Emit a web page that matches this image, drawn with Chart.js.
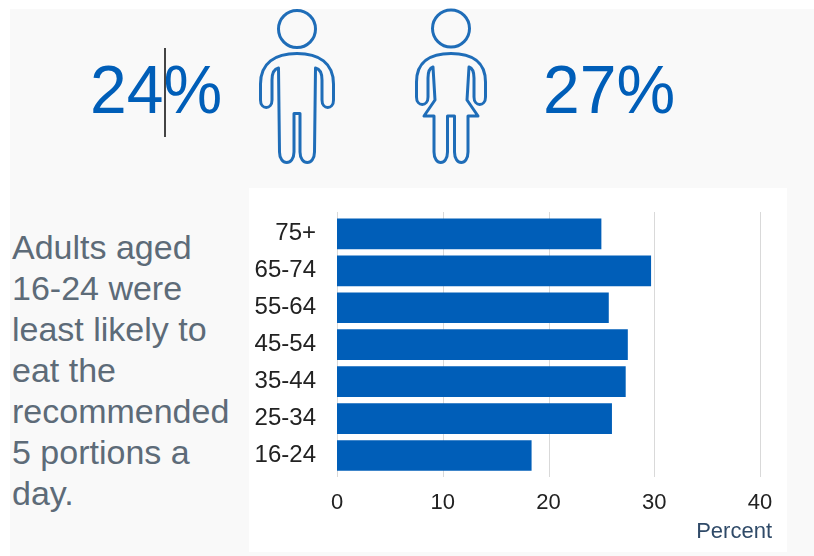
<!DOCTYPE html>
<html>
<head>
<meta charset="utf-8">
<script src="https://cdn.jsdelivr.net/npm/chart.js@4"></script>
<style>
html,body{margin:0;padding:0;background:#fff;}
#page{position:relative;width:814px;height:556px;overflow:hidden;font-family:"Liberation Sans",Arial,sans-serif;}
#panel{position:absolute;left:10px;top:9px;width:804px;height:547px;background:#f9f9f9;}
#chartBox{position:absolute;left:249px;top:188px;width:538px;height:364px;background:#fff;}
.big{position:absolute;font-size:66px;line-height:66px;color:#005eb8;white-space:nowrap;transform:scaleY(1.04);}
#divider{position:absolute;left:164px;top:48px;width:2px;height:89px;background:#444;}
#note{position:absolute;left:12px;top:227px;width:236px;font-size:34px;line-height:41px;color:#5d6b78;}
#icons{position:absolute;left:0;top:0;}
#icons *{fill:none;stroke:#1f6db8;stroke-width:3;stroke-linejoin:round;}
</style>
</head>
<body>
<div id="page">
	<div id="panel"></div>
	<div class="big" id="menValue" style="left:90px;top:56px;"></div>
	<div id="divider"></div>
	<div class="big" id="womenValue" style="left:543px;top:56px;"></div>
	<svg id="icons" width="814" height="190">
		<!-- man -->
		<circle cx="297" cy="29" r="18.5"></circle>
		<path d="M297 53.5C275 53.5 260.5 63 260.5 84V100C260.5 110 272 110 272 100V80C272 73 274 69 278.5 68L279.5 152C279.5 166 294 166 294 152V113.5H300V152C300 166 314.5 166 314.5 152L315.5 68C320 69 322 73 322 80V100C322 110 333.5 110 333.5 100V84C333.5 63 319 53.5 297 53.5Z"></path>
		<!-- woman -->
		<circle cx="451" cy="28.5" r="18.5"></circle>
		<path d="M451 53.5C430 53.5 416.5 62 416.5 82V97C416.5 107 428 107 428 97V78C428 72 430 68 433 67L435 100L424 116H434V152C434 166 447.5 166 447.5 152V116H454.5V152C454.5 166 468 166 468 152V116H478L467 100L469 67C472 68 474 72 474 78V97C474 107 485.5 107 485.5 97V82C485.5 62 472 53.5 451 53.5Z"></path>
	</svg>
	<div id="note"></div>
	<div id="chartBox"><canvas id="ageChart" width="538" height="364"></canvas></div>
</div>

<script>
var menValue = "24%";
var womenValue = "27%";
var noteLines = ["Adults aged", "16-24 were", "least likely to", "eat the", "recommended", "5 portions a", "day."];

var ageGroups = ["75+", "65-74", "55-64", "45-54", "35-44", "25-34", "16-24"];
var percentValues = [25.0, 29.7, 25.7, 27.5, 27.3, 26.0, 18.4];
var percentTicks = [0, 10, 20, 30, 40];
var axisUnit = "Percent";

document.getElementById("menValue").textContent = menValue;
document.getElementById("womenValue").textContent = womenValue;
document.getElementById("note").innerHTML = noteLines.join("<br>");

// gridlines run a little past the first and last bar
var longGrid = {
	id: "longGrid",
	beforeDatasetsDraw: function (chart) {
		var ctx = chart.ctx;
		var x = chart.scales.x;
		ctx.save();
		ctx.strokeStyle = "#d9d9d9";
		ctx.lineWidth = 1;
		percentTicks.forEach(function (t) {
			var px = Math.round(x.getPixelForValue(t)) + 0.5;
			ctx.beginPath();
			ctx.moveTo(px, 24);
			ctx.lineTo(px, 289);
			ctx.stroke();
		});
		ctx.restore();
	}
};

// unit label hangs out past the end of the x axis
var unitLabel = {
	id: "unitLabel",
	afterDraw: function (chart) {
		var ctx = chart.ctx;
		ctx.save();
		ctx.font = "22px 'Liberation Sans'";
		ctx.fillStyle = "#2f4a68";
		ctx.textAlign = "right";
		ctx.textBaseline = "middle";
		ctx.fillText(axisUnit, chart.scales.x.right + 12, 344);
		ctx.restore();
	}
};

new Chart(document.getElementById("ageChart"), {
	type: "bar",
	data: {
		labels: ageGroups,
		datasets: [{
			data: percentValues,
			backgroundColor: "#005eb8",
			categoryPercentage: 1,
			barPercentage: 0.83
		}]
	},
	options: {
		indexAxis: "y",
		responsive: false,
		animation: false,
		layout: {padding: {top: 19.6, right: 27, bottom: 0, left: 0}},
		plugins: {legend: {display: false}, tooltip: {enabled: false}},
		scales: {
			x: {
				min: 0,
				max: 40,
				afterBuildTicks: function (scale) {
					scale.ticks = percentTicks.map(function (v) { return {value: v}; });
				},
				afterFit: function (scale) { scale.height = 78; },
				grid: {display: false},
				border: {display: false},
				ticks: {color: "#222", font: {family: "Liberation Sans", size: 22}, padding: 8, maxRotation: 0}
			},
			y: {
				afterFit: function (scale) { scale.width = 88; },
				grid: {display: false},
				border: {display: false},
				ticks: {color: "#222", font: {family: "Liberation Sans", size: 24}, padding: 13, autoSkip: false}
			}
		}
	},
	plugins: [longGrid, unitLabel]
});
</script>
</body>
</html>
